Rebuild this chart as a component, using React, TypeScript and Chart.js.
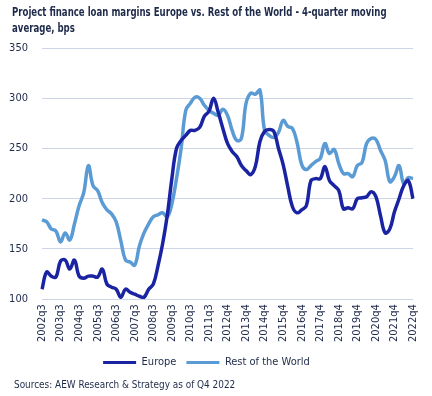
import React, { useEffect, useRef } from "react";
import { Chart, registerables } from "chart.js";

Chart.register(...registerables);

const tickLabels = [
  "2002q3", "2003q3", "2004q3", "2005q3", "2006q3", "2007q3", "2008q3", "2009q3", "2010q3", "2011q3",
  "2012q4", "2013q4", "2014q4", "2015q4", "2016q4", "2017q4", "2018q4", "2019q4", "2020q4", "2021q4", "2022q4",
];

const europe = [
  110, 127, 123, 122, 138, 139, 130, 139, 123, 121,
  123, 123, 122, 130, 115, 112, 110, 102, 110, 107,
  105, 103, 102, 110, 115, 133, 155, 183, 220, 250,
  258, 263, 268, 268, 271, 282, 287, 300, 286, 270,
  255, 247, 242, 233, 228, 224, 232, 257, 267, 269,
  267, 250, 234, 212, 192, 186, 189, 193, 218, 220,
  220, 232, 218, 213, 208, 190, 191, 190, 200, 201,
  202, 207, 202, 183, 166, 170, 187, 200, 213, 218,
  200,
];

const restOfWorld = [
  179, 177, 170, 168, 157, 166, 159, 175, 193, 206,
  233, 213, 208, 196, 189, 185, 177, 158, 139, 137,
  134, 153, 166, 175, 182, 184, 186, 182, 195, 220,
  250, 288, 295, 301, 300, 293, 288, 285, 283, 289,
  283, 268, 258, 260, 295, 305, 304, 308, 268, 263,
  261, 266, 278, 272, 270, 256, 234, 229, 233, 237,
  240, 255, 245, 249, 235, 225, 225, 222, 233, 236,
  255, 260, 259, 248, 238, 217, 222, 233, 215, 221,
  220,
];

const TEXT = "#1e2a4a";
const FONT = "'Liberation Sans Narrow', 'DejaVu Sans Condensed', 'Liberation Sans', sans-serif";

export default function App() {
  const ref = useRef<HTMLCanvasElement | null>(null);

  useEffect(() => {
    if (!ref.current) return;
    const labels = europe.map((_, i) => (i % 4 === 0 ? tickLabels[i / 4] : ""));
    const chart = new Chart(ref.current, {
      type: "line",
      data: {
        labels,
        datasets: [
          {
            label: "Europe",
            data: europe,
            borderColor: "#1a24a3",
            backgroundColor: "#1a24a3",
            borderWidth: 3.5,
            pointRadius: 0,
            tension: 0.4,
          },
          {
            label: "Rest of the World",
            data: restOfWorld,
            borderColor: "#5b9bd5",
            backgroundColor: "#5b9bd5",
            borderWidth: 3.5,
            pointRadius: 0,
            tension: 0.4,
          },
        ],
      },
      options: {
        animation: false,
        responsive: false,
        maintainAspectRatio: false,
        layout: { padding: { top: 48, right: 19, bottom: 18, left: 0 } },
        scales: {
          x: {
            offset: false,
            grid: { display: false, drawTicks: false },
            border: { display: false },
            ticks: {
              autoSkip: false,
              maxRotation: 90,
              minRotation: 90,
              padding: 5,
              color: TEXT,
              font: { family: FONT, size: 11 },
              callback: (_v: any, i: number) => (i % 4 === 0 ? tickLabels[i / 4] : ""),
            },
          },
          y: {
            min: 100,
            max: 350,
            afterFit: (s: any) => {
              s.width = 42;
            },
            grid: { color: "#cdd5e6", lineWidth: 1, drawTicks: false },
            border: { display: false },
            ticks: {
              stepSize: 50,
              padding: 14,
              color: TEXT,
              font: { family: FONT, size: 11 },
            },
          },
        },
        plugins: {
          legend: {
            position: "bottom",
            labels: {
              boxWidth: 33,
              boxHeight: 3,
              padding: 10,
              color: TEXT,
              font: { family: FONT, size: 11 },
              generateLabels: (c: any) =>
                Chart.defaults.plugins.legend.labels.generateLabels(c).map((l: any) => ({
                  ...l,
                  lineWidth: 0,
                })),
            },
          },
          tooltip: { enabled: false },
        },
      },
    });
    return () => chart.destroy();
  }, []);

  return (
    <div style={{ position: "absolute", left: 0, top: 0, width: 432, height: 396, background: "#fff" }}>
      <canvas ref={ref} width={432} height={396} style={{ position: "absolute", left: 0, top: 0 }} />
      <div
        style={{
          position: "absolute",
          left: 12,
          top: 4,
          whiteSpace: "nowrap",
          fontFamily: FONT,
          fontWeight: "bold",
          fontSize: 11.5,
          lineHeight: "16px",
          color: TEXT,
          transform: "scaleX(0.83)",
          transformOrigin: "left top",
        }}
      >
        Project finance loan margins Europe vs. Rest of the World - 4-quarter moving
        <br />
        average, bps
      </div>
      <div
        style={{
          position: "absolute",
          left: 14,
          top: 378,
          whiteSpace: "nowrap",
          fontFamily: FONT,
          fontSize: 11,
          color: TEXT,
          transform: "scaleX(0.9)",
          transformOrigin: "left top",
        }}
      >
        Sources: AEW Research &amp; Strategy as of Q4 2022
      </div>
    </div>
  );
}
